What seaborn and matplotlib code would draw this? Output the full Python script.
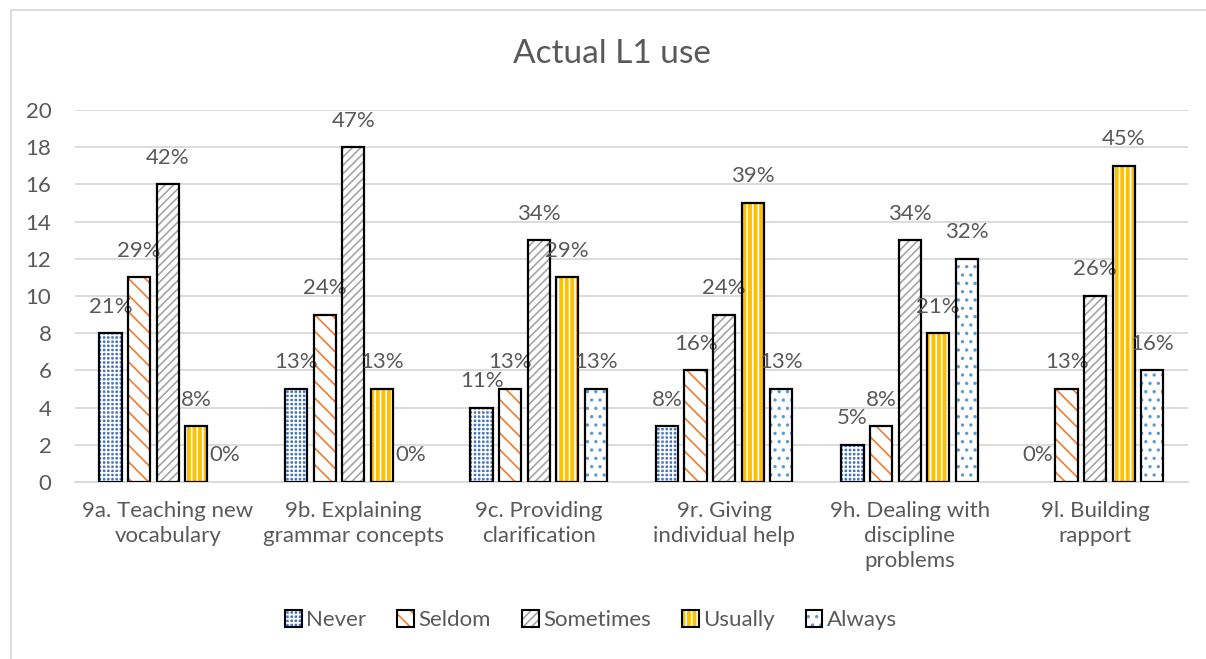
import numpy as np
import pandas as pd
import seaborn as sns
import matplotlib.pyplot as plt
from matplotlib.patches import Patch, Rectangle

# Data
categories = ["9a. Teaching new\nvocabulary", "9b. Explaining\ngrammar concepts",
              "9c. Providing\nclarification", "9r. Giving\nindividual help",
              "9h. Dealing with\ndiscipline\nproblems", "9l. Building\nrapport"]
responses = ["Never", "Seldom", "Sometimes", "Usually", "Always"]
never     = [8, 5, 4, 3, 2, 0]
seldom    = [11, 9, 5, 6, 3, 5]
sometimes = [16, 18, 13, 9, 13, 10]
usually   = [3, 5, 11, 15, 8, 17]
always    = [0, 0, 5, 5, 12, 6]
pct_never     = [21, 13, 11, 8, 5, 0]
pct_seldom    = [29, 24, 13, 16, 8, 13]
pct_sometimes = [42, 47, 34, 24, 34, 26]
pct_usually   = [8, 13, 29, 39, 21, 45]
pct_always    = [0, 0, 13, 13, 32, 16]

counts = [never, seldom, sometimes, usually, always]
pcts = [pct_never, pct_seldom, pct_sometimes, pct_usually, pct_always]

df = pd.DataFrame({
    "category": np.tile(categories, len(responses)),
    "response": np.repeat(responses, len(categories)),
    "count": np.concatenate(counts),
})

# pattern styles: (face colour, hatch, hatch colour)
styles = [("#4472C4", "++++", "white"),
          ("white", "\\\\", "#ED7D31"),
          ("white", "////", "#A5A5A5"),
          ("#FFC000", "|||", "white"),
          ("white", "..", "#5B9BD5")]

sns.set_theme(style="white")
plt.rcParams["font.family"] = ["Lato", "DejaVu Sans"]
plt.rcParams["hatch.linewidth"] = 1.2
txt = "#595959"

fig = plt.figure(figsize=(12.06, 6.59), dpi=100)
ax = fig.add_axes([0.0622, 0.2686, 0.9228, 0.5644])

sns.barplot(data=df, x="category", y="count", hue="response", order=categories,
            hue_order=responses, width=0.77, gap=0.22, legend=False, ax=ax,
            errorbar=None)

for i, cont in enumerate(ax.containers):
    fc, hatch, hc = styles[i]
    for bar in cont:
        bar.set_facecolor(fc)
        bar.set_hatch(hatch)
        bar.set_edgecolor(hc)
        bar.set_linewidth(0)
        if bar.get_height() > 0:
            ax.add_patch(Rectangle(bar.get_xy(), bar.get_width(), bar.get_height(),
                                   fill=False, ec="black", lw=1.6, zorder=3))
    ax.bar_label(cont, labels=[f"{p}%" for p in pcts[i]], padding=12,
                 fontsize=16, color=txt)

ax.set_ylim(0, 20)
ax.set_yticks(range(0, 21, 2))
ax.yaxis.grid(True, color="#D9D9D9", lw=1.3)
ax.set_axisbelow(True)
for s in ["top", "right", "left"]:
    ax.spines[s].set_visible(False)
ax.spines["bottom"].set_color("#D9D9D9")
ax.spines["bottom"].set_linewidth(1.3)
ax.tick_params(axis="both", length=0, labelsize=16, labelcolor=txt)
ax.tick_params(axis="x", pad=14)
ax.tick_params(axis="y", pad=17)
for lab in ax.get_xticklabels():
    lab.set_linespacing(1.3)
    lab.set_verticalalignment("top")
ax.set_xlabel("")
ax.set_ylabel("")

fig.text(0.507, 0.918, "Actual L1 use", ha="center", va="center",
         fontsize=24, color=txt)

handles = [(Patch(facecolor=fc, hatch=h, edgecolor=hc, lw=0),
            Patch(fill=False, edgecolor="black", lw=1.5))
           for fc, h, hc in styles]
fig.legend(handles, responses, loc="center", bbox_to_anchor=(0.49, 0.059),
           ncol=5, frameon=False, fontsize=16, handlelength=0.75,
           handleheight=0.75, handletextpad=0.2, columnspacing=1.4,
           labelcolor=txt)

# chart border
fig.patches.append(Rectangle((0.0091, -0.1), 1.2, 1.0848, transform=fig.transFigure,
                             fill=False, ec="#D9D9D9", lw=1.3))

fig.savefig("out.png", dpi=100)
